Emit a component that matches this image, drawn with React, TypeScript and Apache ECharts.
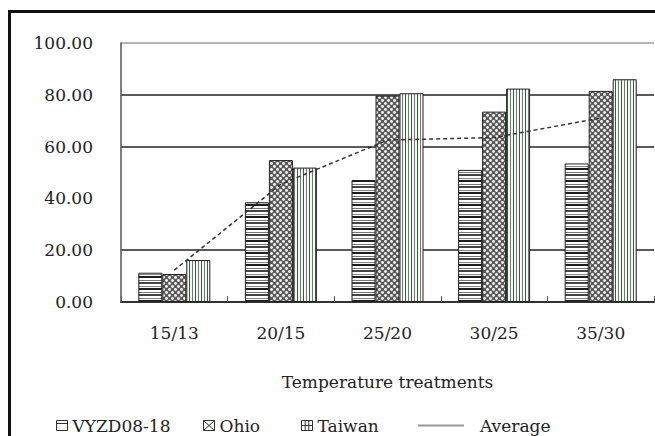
import React, { useEffect, useRef } from 'react';
import * as echarts from 'echarts';

const categories = ['15/13', '20/15', '25/20', '30/25', '35/30'];
const vyzValues = [11.3, 38.5, 47.1, 51.0, 53.5];
const ohioValues = [10.8, 54.8, 79.7, 73.5, 81.5];
const taiwanValues = [16.2, 51.9, 80.6, 82.4, 86.0];
const averageValues = [12.3, 45.5, 62.5, 63.5, 71.0];
const seriesNames = ['VYZD08-18', 'Ohio', 'Taiwan', 'Average'];
const yMin = 0;
const yMax = 100;
const yInterval = 20;
const xAxisName = 'Temperature treatments';

const FONT = 'DejaVu Serif';

function makePattern(w: number, h: number, draw: (ctx: CanvasRenderingContext2D) => void) {
  const c = document.createElement('canvas');
  c.width = w;
  c.height = h;
  const ctx = c.getContext('2d') as CanvasRenderingContext2D;
  draw(ctx);
  return { image: c, repeat: 'repeat', imageWidth: w, imageHeight: h } as any;
}

export default function App() {
  const ref = useRef<HTMLDivElement>(null);
  useEffect(() => {
    if (!ref.current) return;
    const chart = echarts.init(ref.current, undefined, { renderer: 'svg' });

    const vyzPattern = makePattern(4, 12, (ctx) => {
      const rows = ['#1e1e1e', '#1e1e1e', '#ffffff', '#ffffff', '#777777', '#ffffff', '#444444', '#444444', '#ffffff', '#ffffff', '#888888', '#f4f4f4'];
      rows.forEach((c, i) => {
        ctx.fillStyle = c;
        ctx.fillRect(0, i, 4, 1);
      });
    });
    const ohioPattern = makePattern(6, 6, (ctx) => {
      ctx.fillStyle = '#5a5a5a';
      ctx.fillRect(0, 0, 6, 6);
      ctx.fillStyle = '#f4f4f4';
      [[1.5, 1.5], [4.5, 4.5]].forEach(([x, y]) => {
        ctx.beginPath();
        ctx.arc(x, y, 1.45, 0, Math.PI * 2);
        ctx.fill();
      });
    });
    const taiwanPattern = makePattern(6, 4, (ctx) => {
      ctx.fillStyle = '#f7f7f5';
      ctx.fillRect(0, 0, 6, 4);
      ctx.fillStyle = '#777777';
      ctx.fillRect(0, 0, 1, 4);
      ctx.fillStyle = '#3a5e44';
      ctx.fillRect(3, 0, 1, 4);
    });

    const legendIconStyle = { color: 'transparent', borderColor: '#333', borderWidth: 1 };
    const textBase = { fontFamily: FONT, fontSize: 17, color: '#222' };

    const barLegend = (name: string, icon: string, left: number) => ({
      left,
      top: 417,
      itemWidth: 11,
      itemHeight: 10,
      padding: 0,
      textStyle: textBase,
      itemStyle: legendIconStyle,
      data: [{ name, icon, itemStyle: legendIconStyle }],
    });

    const barCommon = {
      type: 'bar',
      barWidth: 24,
      barGap: '0%',
      z: 2,
    };

    chart.setOption({
      animation: false,
      backgroundColor: '#ffffff',
      graphic: [
        {
          type: 'rect',
          shape: { x: 9.5, y: 11.5, width: 800, height: 600 },
          style: { fill: 'none', stroke: '#111', lineWidth: 3 },
          silent: true,
          z: 10,
        },
      ],
      grid: { left: 121, right: 1, top: 43, bottom: 134, containLabel: false, outerBoundsMode: 'none' },
      legend: [
        barLegend(seriesNames[0], 'path://M0,0H11V10H0Z M0,3H11', 56),
        barLegend(seriesNames[1], 'path://M0,0H11V10H0Z M0,0L11,10 M11,0L0,10', 203),
        barLegend(seriesNames[2], 'path://M0,0H11V10H0Z M3.7,0V10 M7.3,0V10 M0,5H11', 301),
        {
          left: 418,
          top: 417,
          itemWidth: 46,
          itemHeight: 2,
          padding: 0,
          textStyle: { ...textBase, padding: [0, 0, 0, 11] },
          itemStyle: { color: '#9a9a9a', borderWidth: 0 },
          lineStyle: { color: '#9a9a9a', width: 2, type: 'solid' },
          data: [{ name: seriesNames[3], icon: 'rect', itemStyle: { color: '#9a9a9a', borderWidth: 0 } }],
        },
      ],
      xAxis: {
        type: 'category',
        data: categories,
        name: xAxisName,
        nameLocation: 'middle',
        nameGap: 71,
        nameTextStyle: textBase,
        axisLine: { show: true, lineStyle: { color: '#333', width: 2 } },
        axisTick: { show: true, inside: true, length: 6, lineStyle: { color: '#555', width: 1 } },
        axisLabel: { ...textBase, margin: 22 },
        splitLine: { show: false },
      },
      yAxis: {
        type: 'value',
        min: yMin,
        max: yMax,
        interval: yInterval,
        axisLine: { show: true, lineStyle: { color: '#555', width: 1.5 } },
        axisTick: { show: false },
        axisLabel: { ...textBase, margin: 28, formatter: (v: number) => v.toFixed(2) },
        splitLine: {
          show: true,
          lineStyle: {
            width: 2,
            color: ['#555', '#5a5a5a', 'rgba(0,0,0,0)', '#5a5a5a', '#5a5a5a', '#b5b5b5'],
          },
        },
      },
      series: [
        {
          ...barCommon,
          name: seriesNames[0],
          data: vyzValues,
          itemStyle: { color: vyzPattern, borderColor: '#222', borderWidth: 1 },
        },
        {
          ...barCommon,
          name: seriesNames[1],
          data: ohioValues,
          itemStyle: { color: ohioPattern, borderColor: '#222', borderWidth: 1 },
        },
        {
          ...barCommon,
          name: seriesNames[2],
          data: taiwanValues,
          itemStyle: { color: taiwanPattern, borderColor: '#222', borderWidth: 1 },
        },
        {
          type: 'line',
          name: seriesNames[3],
          data: averageValues,
          symbol: 'none',
          z: 5,
          lineStyle: { color: '#333', width: 1.5, type: [4, 3] },
        },
      ],
    });
    return () => chart.dispose();
  }, []);
  return (
    <div
      ref={ref}
      style={{ position: 'fixed', left: 0, top: 0, width: 655, height: 436, background: '#fff' }}
    />
  );
}
